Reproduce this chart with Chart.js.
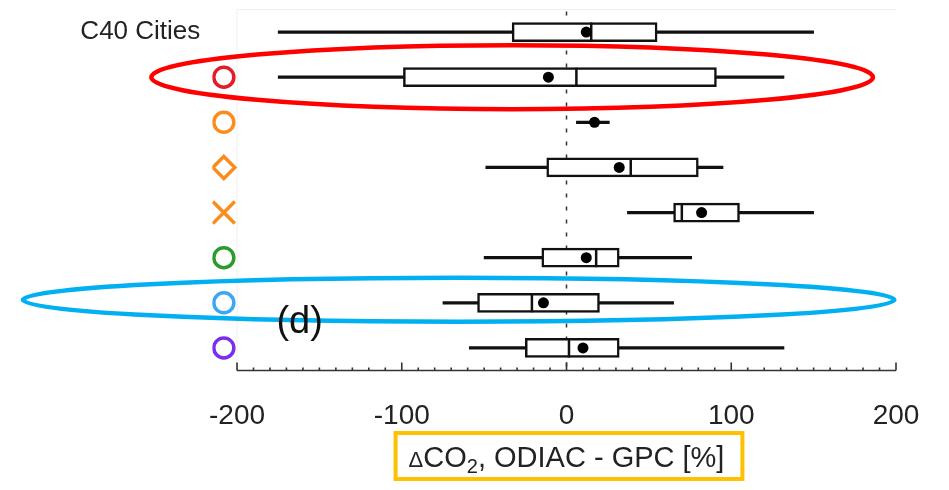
<!DOCTYPE html>
<html>
<head>
<meta charset="utf-8">
<script src="https://cdn.jsdelivr.net/npm/chart.js@4.4.1/dist/chart.umd.min.js"></script>
<style>
  html, body { margin: 0; padding: 0; background: #fff; }
  canvas { display: block; }
</style>
</head>
<body>
<canvas id="boxChart" width="949" height="490"></canvas>
<script>
// rows, top to bottom
var rowLabels    = ['C40 Cities', '', '', '', '', '', '', ''];
var markerStyles = [null, 'circle', 'circle', 'rectRot', 'crossRot', 'circle', 'circle', 'circle'];
var markerColors = [null, '#e31b2c', '#f98d1d', '#f98d1d', '#f98d1d', '#2b9b2b', '#3ba6f4', '#7a2df2'];

// delta CO2 (%) statistics per row
var whiskerLow  = [-175, -175,    6, -49,  37, -50, -75, -59];
var whiskerHigh = [ 150,  132,   26,  95, 150,  76,  65, 132];
var boxLow      = [ -33,  -99, null, -12,  65, -15, -54, -25];
var boxHigh     = [  55,   91, null,  80, 105,  32,  20,  32];
var medians     = [  15,    6, null,  39,  70,  18, -21, 1.5];
var means       = [  12,  -11,   17,  32,  82,  12, -14,  10];

var xTicks = [-200, -100, 0, 100, 200];
var markerX = -208;

function markerRadius(style) {
    if (style === 'crossRot') return 15.5;
    if (style === 'rectRot') return 11;
    return 10;
}

// one entry per row so the category index lines up
var whiskerData = whiskerLow.map(function(lo, i) { return [lo, whiskerHigh[i]]; });
var boxData = boxLow.map(function(lo, i) { return lo === null ? null : [lo, boxHigh[i]]; });
var medianData = medians.map(function(m, i) { return { x: m, y: i }; });
var meanData = means.map(function(m, i) { return { x: m, y: i }; });
var markerData = markerStyles.map(function(s, i) { return { x: s ? markerX : null, y: i }; });

var extras = {
    id: 'extras',
    beforeDatasetsDraw: function(chart) {
        var ctx = chart.ctx, a = chart.chartArea, x = chart.scales.x;
        var x0 = x.getPixelForValue(-200), x1 = x.getPixelForValue(200);
        ctx.save();
        ctx.strokeStyle = '#f0f0f0';
        ctx.lineWidth = 1;
        ctx.beginPath();
        ctx.moveTo(x0, a.bottom);
        ctx.lineTo(x0, a.top);
        ctx.lineTo(x1, a.top);
        ctx.stroke();

        // dotted zero line
        var zx = x.getPixelForValue(0);
        ctx.strokeStyle = '#333';
        ctx.lineWidth = 1.5;
        ctx.setLineDash([4, 9]);
        ctx.beginPath();
        ctx.moveTo(zx, a.top + 2);
        ctx.lineTo(zx, a.bottom);
        ctx.stroke();
        ctx.restore();
    },
    afterDraw: function(chart) {
        var ctx = chart.ctx, a = chart.chartArea, x = chart.scales.x, y = chart.scales.y;
        ctx.save();

        // axis line with ticks pointing up
        var ay = a.bottom;
        ctx.strokeStyle = '#333';
        ctx.lineWidth = 1.6;
        ctx.beginPath();
        ctx.moveTo(x.getPixelForValue(-200), ay);
        ctx.lineTo(x.getPixelForValue(200), ay);
        for (var v = -200; v <= 200; v += 10) {
            var px = x.getPixelForValue(v);
            ctx.moveTo(px, ay);
            ctx.lineTo(px, ay - (v % 100 === 0 ? 8 : 3));
        }
        ctx.stroke();

        // highlight ellipses
        var rings = [
            { row: 1, from: -252, to: 186, ry: 32, dy: 0, color: '#ff0000' },
            { row: 6, from: -330, to: 199, ry: 22, dy: -3, color: '#00b0f0' }
        ];
        rings.forEach(function(r) {
            var l = x.getPixelForValue(r.from), rr = x.getPixelForValue(r.to);
            ctx.strokeStyle = r.color;
            ctx.lineWidth = 4.5;
            ctx.beginPath();
            ctx.ellipse((l + rr) / 2, y.getPixelForValue(r.row) + r.dy, (rr - l) / 2, r.ry, 0, 0, Math.PI * 2);
            ctx.stroke();
        });

        // panel label
        ctx.fillStyle = '#111';
        ctx.font = '38px "Liberation Sans", Arial, sans-serif';
        ctx.textAlign = 'center';
        ctx.textBaseline = 'middle';
        ctx.fillText('(d)', x.getPixelForValue(-162), y.getPixelForValue(6.44));

        // axis title in a yellow box
        var parts = [
            { text: '\u0394', size: 22, dy: 0 },
            { text: 'CO', size: 29, dy: 0 },
            { text: '2', size: 20, dy: 6 },
            { text: ', ODIAC - GPC [%]', size: 29, dy: 0 }
        ];
        var total = 0;
        parts.forEach(function(p) {
            ctx.font = p.size + 'px "Liberation Sans", Arial, sans-serif';
            p.w = ctx.measureText(p.text).width;
            total += p.w;
        });
        var cx = x.getPixelForValue(0);
        var base = 467;
        var tx = cx - total / 2;
        ctx.textAlign = 'left';
        ctx.textBaseline = 'alphabetic';
        ctx.fillStyle = '#222';
        parts.forEach(function(p) {
            ctx.font = p.size + 'px "Liberation Sans", Arial, sans-serif';
            ctx.fillText(p.text, tx, base + p.dy);
            tx += p.w;
        });
        ctx.strokeStyle = '#ffc000';
        ctx.lineWidth = 4;
        ctx.strokeRect(cx - total / 2 - 13, 433, total + 31, 46);
        ctx.restore();
    }
};

var boxChart = new Chart(document.getElementById('boxChart'), {
    type: 'bar',
    data: {
        labels: rowLabels,
        datasets: [
            {
                label: 'whiskers',
                data: whiskerData,
                backgroundColor: '#111',
                borderWidth: 0,
                barThickness: 2.5,
                grouped: false,
                order: 4
            },
            {
                label: 'boxes',
                data: boxData,
                backgroundColor: '#fff',
                borderColor: '#111',
                borderWidth: 2.5,
                borderSkipped: false,
                barThickness: 19,
                grouped: false,
                order: 3
            },
            {
                type: 'scatter',
                label: 'median',
                data: medianData,
                pointStyle: 'line',
                rotation: 90,
                pointRadius: 9.5,
                borderColor: '#111',
                borderWidth: 2.5,
                order: 2
            },
            {
                type: 'scatter',
                label: 'mean',
                data: meanData,
                pointStyle: 'circle',
                pointRadius: 5.5,
                backgroundColor: '#000',
                borderColor: '#000',
                borderWidth: 0,
                order: 1
            },
            {
                type: 'scatter',
                label: 'markers',
                data: markerData,
                pointStyle: markerStyles.map(function(s) { return s || 'circle'; }),
                pointRadius: markerStyles.map(markerRadius),
                borderColor: markerColors.map(function(c) { return c || '#000'; }),
                backgroundColor: 'rgba(0,0,0,0)',
                borderWidth: 3.5,
                order: 0
            }
        ]
    },
    options: {
        indexAxis: 'y',
        responsive: false,
        animation: false,
        layout: { autoPadding: false, padding: { top: 9.5, right: 53, bottom: 0, left: 0 } },
        plugins: {
            legend: { display: false },
            tooltip: { enabled: false }
        },
        scales: {
            x: {
                type: 'linear',
                min: -215,
                max: 200,
                afterBuildTicks: function(scale) {
                    scale.ticks = xTicks.map(function(v) { return { value: v }; });
                },
                afterFit: function(scale) {
                    scale.height = 119.5;
                    scale.paddingLeft = 0;
                    scale.paddingRight = 0;
                },
                grid: { display: false, drawTicks: false },
                border: { display: false },
                ticks: {
                    padding: 29,
                    color: '#222',
                    font: { family: '"Liberation Sans", Arial, sans-serif', size: 28 },
                    callback: function(v) { return String(v); }
                }
            },
            y: {
                type: 'category',
                offset: true,
                afterFit: function(scale) {
                    scale.width = 212.3;
                    scale.paddingTop = 0;
                    scale.paddingBottom = 0;
                },
                grid: { display: false, drawTicks: false },
                border: { display: false },
                ticks: {
                    padding: 12,
                    color: '#222',
                    font: { family: '"Liberation Sans", Arial, sans-serif', size: 26 }
                }
            }
        }
    },
    plugins: [extras]
});
</script>
</body>
</html>
